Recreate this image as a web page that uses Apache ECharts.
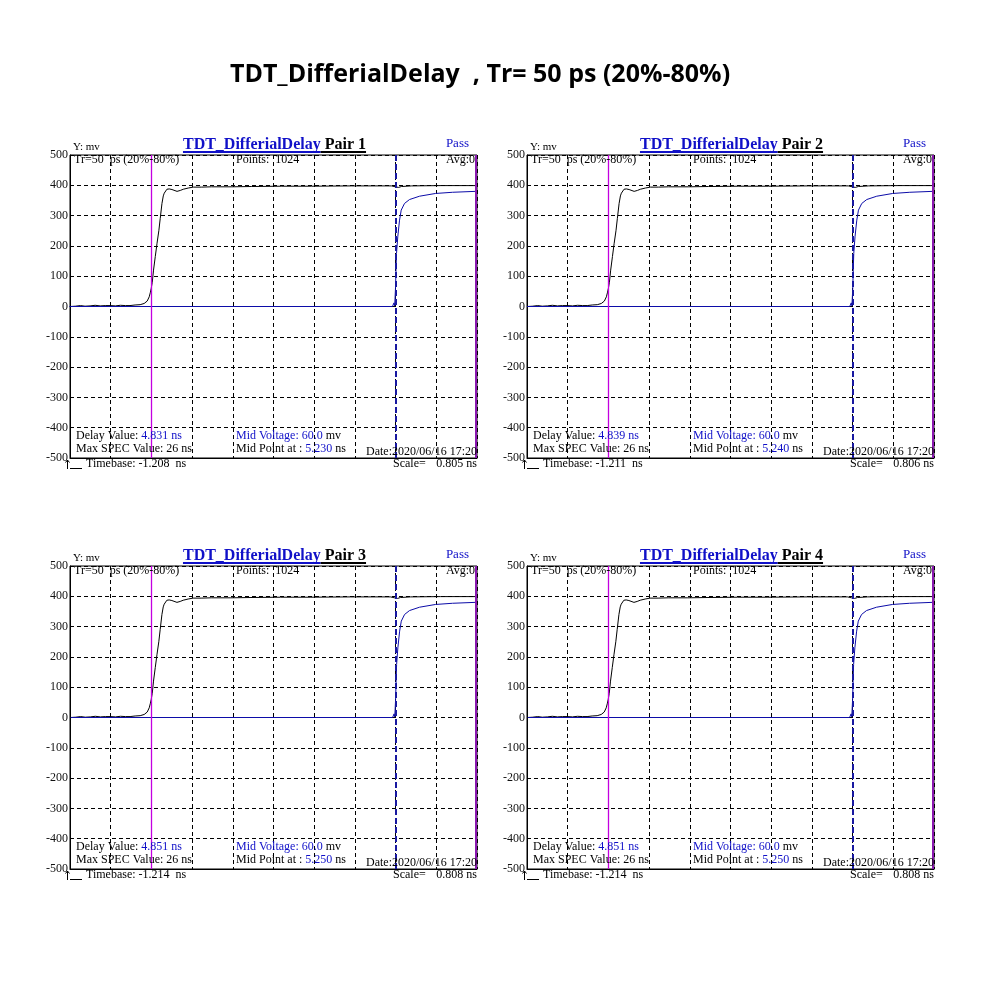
<!DOCTYPE html>
<html><head><meta charset="utf-8">
<script src="https://cdn.jsdelivr.net/npm/echarts@6/dist/echarts.min.js"></script>
<style>html,body{margin:0;padding:0;background:#fff}#c{width:1000px;height:1000px}</style>
</head><body><div id="c"></div>
<script>
// ---------------- data ----------------
const mainTitle = 'TDT_DifferialDelay  , Tr= 50 ps (20%-80%)';
const chartName = 'TDT_DifferialDelay';
const pairNames = ['Pair 1', 'Pair 2', 'Pair 3', 'Pair 4'];
const passText = ['Pass', 'Pass', 'Pass', 'Pass'];
const timebase = [-1.208, -1.211, -1.214, -1.214];   // ns
const scalePerDiv = [0.805, 0.806, 0.808, 0.808];     // ns/div
const delayValue = [4.831, 4.839, 4.851, 4.851];      // ns
const midPoint = [5.230, 5.240, 5.250, 5.250];        // ns
const midVoltage = [60.0, 60.0, 60.0, 60.0];          // mV
const maxSpec = [26, 26, 26, 26];
const pointsCount = [1024, 1024, 1024, 1024];
const dateText = ['2020/06/16 17:20', '2020/06/16 17:20', '2020/06/16 17:20', '2020/06/16 17:20'];
const yMin = -500, yMax = 500, yStep = 100;
const divisions = 10;

// black trace: time relative to its mid-voltage crossing (ns), voltage (mV)
const blackDt = [-1.60,-1.50,-1.40,-1.31,-1.21,-1.11,-1.01,-0.91,-0.81,-0.71,
  -0.61,-0.51,-0.42,-0.32,-0.22,-0.14,-0.08,-0.04,-0.02,0,
  0.02,0.045,0.08,0.113,0.15,0.178,0.212,0.238,0.257,0.31,
  0.356,0.41,0.51,0.574,0.634,0.733,0.83,0.99,1.19,1.58,
  1.98,2.57,3.17,3.96,4.75,4.83,4.89,4.95,5.15,5.74,6.45];
const blackMv = [0,1,3,1,2,4,2,3,3,2,
  4,3,3,5,6,10,18,32,45,60,
  80,120,165,207,250,291,340,365,374,387,
  388,386,380,383,387,391,394,394,395,395,
  396,397,397,398,398,395,393,396,398,399,399];
// blue trace: time relative to its mid-voltage crossing (ns), voltage (mV)
const blueDt = [-6.45,-0.06,-0.03,-0.016,0,0.01,0.02,0.045,0.08,0.113,0.178,0.277,0.475,0.79,1.13,1.58];
const blueMv = [0,0,12,2,60,120,175,230,285,318,340,353,364,373,377,380];

// ---------------- layout ----------------
const panels = [{l:70,t:155},{l:527,t:155},{l:70,t:566},{l:527,t:566}];
const PW = 407, PH = 303;
const SERIF = '"Liberation Serif", "Times New Roman", serif';
const BLUE = '#1010c8';

const ctx = document.createElement('canvas').getContext('2d');
function tw(font, s){ ctx.font = font; return ctx.measureText(s).width; }

const grid = [], xAxis = [], yAxis = [], series = [], graphic = [];

graphic.push({type:'text', x:480, y:75, z:100,
  style:{text: mainTitle, fontSize:25, fontWeight:'bold', fontFamily:'"Open Sans", "Noto Sans", sans-serif',
    fill:'#000', align:'center', verticalAlign:'middle'}});

panels.forEach((p, i) => {
  const tb = timebase[i], sc = scalePerDiv[i];
  grid.push({left:p.l, top:p.t, width:PW, height:PH, show:true, borderColor:'#000', borderWidth:1});
  // division axis (grid lines)
  xAxis.push({gridIndex:i, type:'value', min:0, max:divisions, interval:1,
    axisLabel:{show:false}, axisTick:{show:false},
    axisLine:{show:true, onZero:false, lineStyle:{color:'#000', width:1}},
    splitLine:{show:true, lineStyle:{color:'#000', type:[4,3], width:1}}});
  // time axis (data)
  xAxis.push({gridIndex:i, type:'value', min:tb, max:tb + divisions*sc, show:false,
    splitLine:{show:false}, axisLine:{onZero:false}});
  yAxis.push({gridIndex:i, type:'value', min:yMin, max:yMax, interval:yStep,
    axisLabel:{fontSize:12, color:'#111', margin:2, fontFamily:SERIF},
    axisTick:{show:false},
    axisLine:{show:true, lineStyle:{color:'#000', width:1}},
    splitLine:{show:true, lineStyle:{color:'#000', type:[4,3], width:1}}});

  const t0 = midPoint[i] - delayValue[i];
  const t1 = midPoint[i];
  series.push({type:'line', xAxisIndex:2*i+1, yAxisIndex:i, symbol:'none', clip:true,
    lineStyle:{color:'#000', width:1}, z:3,
    data: blackDt.map((d,k)=>[t0+d, blackMv[k]])});
  series.push({type:'line', xAxisIndex:2*i+1, yAxisIndex:i, symbol:'none', clip:true,
    lineStyle:{color:'#0c0ca8', width:1}, z:4,
    data: blueDt.map((d,k)=>[t1+d, blueMv[k]])});
  // marker lines at the two crossing times (unclipped)
  series.push({type:'line', xAxisIndex:2*i+1, yAxisIndex:i, symbol:'none', clip:false, z:6,
    data: [],
    markLine:{silent:true, symbol:'none', label:{show:false}, animation:false, z:6,
      data:[
        {xAxis:t0, lineStyle:{color:'#c400e0', width:1.3, type:'solid'}},
        {xAxis:t1, lineStyle:{color:'#1818a0', width:2, type:[6,3]}}
      ]}});
  // purple right-edge marker (on division axis)
  series.push({type:'line', xAxisIndex:2*i, yAxisIndex:i, symbol:'none', clip:false, z:6,
    data: [],
    markLine:{silent:true, symbol:'none', label:{show:false}, animation:false, z:6,
      data:[{xAxis:divisions - 0.015, lineStyle:{color:'#8a18b0', width:2, type:'solid'}}]}});

  // ----- texts -----
  const L = p.l, T = p.t, R = p.l + PW, cx = p.l + PW/2;
  const tf = 'bold 16px ' + SERIF;
  const nameStr = chartName, pairStr = ' ' + pairNames[i];
  const wa = tw(tf, nameStr), wb = tw(tf, pairStr);
  const sx = cx - (wa + wb)/2 + 1;
  graphic.push({type:'text', x:sx, y:T-10.5, z:100, style:{text:nameStr, font:tf, fill:BLUE, verticalAlign:'middle'}});
  graphic.push({type:'text', x:sx+wa, y:T-10.5, z:100, style:{text:pairStr, font:tf, fill:'#000', verticalAlign:'middle'}});
  graphic.push({type:'line', z:100, shape:{x1:sx, y1:T-3, x2:sx+wa, y2:T-3}, style:{stroke:BLUE, lineWidth:2}});
  graphic.push({type:'line', z:100, shape:{x1:sx+wa, y1:T-3, x2:sx+wa+wb, y2:T-3}, style:{stroke:'#000', lineWidth:2}});

  const f12 = '12px ' + SERIF;
  const txt = (x, y, s, opt) => graphic.push({type:'text', x, y, z:100,
    style:Object.assign({text:s, font:f12, fill:'#000', verticalAlign:'middle'}, opt||{})});
  txt(L+3, T-8, 'Y: mv', {font:'11px ' + SERIF});
  txt(R-8, T-11, passText[i], {font:'13px ' + SERIF, fill:BLUE, align:'right'});
  txt(L+4, T+5, 'Tr=50  ps (20%-80%)');
  txt(L+166, T+5, 'Points:  ' + pointsCount[i]);
  txt(R-2, T+5, 'Avg:0', {align:'right'});

  // mixed-colour lines
  const seg = (x, y, parts) => {
    let cxp = x;
    parts.forEach(([s, c]) => { txt(cxp, y, s, {fill:c}); cxp += tw(f12, s); });
  };
  seg(L+6, T+281, [['Delay Value: ', '#000'], [delayValue[i].toFixed(3) + ' ns', BLUE]]);
  txt(L+6, T+294, 'Max SPEC Value: ' + maxSpec[i] + ' ns');
  seg(L+166, T+281, [['Mid Voltage: ' + midVoltage[i].toFixed(1), BLUE], [' mv', '#000']]);
  seg(L+166, T+294, [['Mid Point at : ', '#000'], [midPoint[i].toFixed(3), BLUE], [' ns', '#000']]);
  txt(R, T+297, 'Date:' + dateText[i], {align:'right'});
  // small arrow symbol
  graphic.push({type:'polyline', z:100, shape:{points:[[L-2.5, T+314],[L-2.5, T+305]]}, style:{stroke:'#000', lineWidth:1, fill:null}});
  graphic.push({type:'polyline', z:100, shape:{points:[[L-4.5, T+307.5],[L-2.5, T+305],[L-0.5, T+307.5]]}, style:{stroke:'#000', lineWidth:1, fill:null}});
  graphic.push({type:'line', z:100, shape:{x1:L, y1:T+313.5, x2:L+12, y2:T+313.5}, style:{stroke:'#000', lineWidth:1}});
  txt(L+16, T+309, 'Timebase: ' + tb.toFixed(3) + '  ns');
  txt(L+323, T+309, 'Scale=');
  txt(R, T+309, sc.toFixed(3) + ' ns', {align:'right'});
});

const chart = echarts.init(document.getElementById('c'), null, {renderer:'canvas'});
chart.setOption({animation:false, backgroundColor:'#fff', grid, xAxis, yAxis, series, graphic});
</script></body></html>
